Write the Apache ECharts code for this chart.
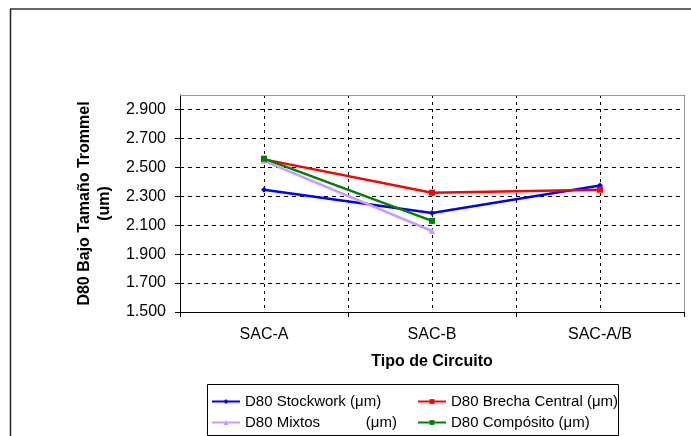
<!DOCTYPE html>
<html>
<head>
<meta charset="utf-8">
<script src="https://cdn.jsdelivr.net/npm/echarts@6/dist/echarts.min.js"></script>
<style>
  html, body { margin: 0; padding: 0; background: #fff; }
  #chart { width: 691px; height: 436px; }
</style>
</head>
<body>
<div id="chart"></div>
<script>
// Circuit types on the category axis
const circuitos = ['SAC-A', 'SAC-B', 'SAC-A/B'];

// D80 under-size of the trommel per ore type (µm, shown in thousands)
const stockwork = [2.345, 2.185, 2.375];
const brechaCentral = [2.555, 2.325, 2.345];
const mixtos = [2.545, 2.060, null];
const composito = [2.560, 2.130, null];

// Series names as they read in the legend
const nombres = [
  'D80 Stockwork (μm)',
  'D80 Brecha Central (μm)',
  'D80 Mixtos           (μm)',
  'D80 Compósito (μm)'
];

// Value axis ticks
const yMin = 1.5, yMax = 3.0, yStep = 0.2;

const FONT = '"Liberation Sans", Arial, sans-serif';

function serie(name, data, color, symbol) {
  return {
    name: name,
    type: 'line',
    data: data,
    symbol: symbol,
    symbolSize: 6,
    showSymbol: true,
    connectNulls: false,
    itemStyle: { color: color },
    lineStyle: { color: color, width: 2.5 },
    emphasis: { disabled: true },
    animation: false
  };
}

const chart = echarts.init(document.getElementById('chart'), null, { renderer: 'canvas' });

const legendBase = {
  orient: 'vertical',
  top: 394,
  padding: 0,
  itemGap: 6,
  itemWidth: 28,
  itemHeight: 6,
  textStyle: { color: '#000', fontSize: 15, fontFamily: FONT },
  selectedMode: false
};

chart.setOption({
  backgroundColor: '#ffffff',
  animation: false,
  textStyle: { fontFamily: FONT },
  grid: { left: 180, right: 7, top: 95, bottom: 124, outerBoundsMode: 'none', containLabel: false },
  xAxis: [
    {
      type: 'category',
      data: circuitos,
      boundaryGap: true,
      axisLine: { show: true, lineStyle: { color: '#000', width: 1 } },
      axisTick: { show: true, length: 5, lineStyle: { color: '#000' } },
      axisLabel: { color: '#000', fontSize: 16, fontFamily: FONT, margin: 15 },
      splitLine: { show: false },
      name: 'Tipo de Circuito',
      nameLocation: 'middle',
      nameGap: 42,
      nameTextStyle: { color: '#000', fontSize: 16, fontWeight: 'bold', fontFamily: FONT }
    },
    {
      // finer category split for the dashed vertical grid (centres and boundaries)
      type: 'category',
      data: ['', '', '', '', '', ''],
      boundaryGap: true,
      position: 'bottom',
      axisLine: { show: false },
      axisTick: { show: false },
      axisLabel: { show: false },
      splitLine: { show: true, lineStyle: { color: '#000', width: 1, type: [3, 4] } }
    }
  ],
  yAxis: {
    type: 'value',
    min: yMin,
    max: yMax,
    interval: yStep,
    axisLine: { show: true, lineStyle: { color: '#000', width: 1 } },
    axisTick: { show: true, length: 5, lineStyle: { color: '#000' } },
    axisLabel: {
      color: '#000', fontSize: 16, fontFamily: FONT, margin: 14,
      showMaxLabel: false,
      formatter: function (v) { return v.toFixed(3); }
    },
    splitLine: { show: true, lineStyle: { color: '#000', width: 1, type: [4, 4] } },
    name: 'D80 Bajo Tamaño Trommel\n(um)',
    nameLocation: 'middle',
    nameRotate: 90,
    nameGap: 59,
    nameTextStyle: { color: '#000', fontSize: 16, fontWeight: 'bold', fontFamily: FONT, lineHeight: 20, align: 'center' }
  },
  legend: [
    Object.assign({}, legendBase, { left: 211, data: [nombres[0], nombres[2]] }),
    Object.assign({}, legendBase, { left: 417, data: [nombres[1], nombres[3]] })
  ],
  graphic: [
    // outer chart-area frame
    { type: 'line', z: 100, shape: { x1: 10, y1: 9, x2: 691, y2: 9 }, style: { stroke: '#666', lineWidth: 2 } },
    { type: 'line', z: 100, shape: { x1: 10.5, y1: 9, x2: 10.5, y2: 436 }, style: { stroke: '#222', lineWidth: 1.5 } },
    // plot-area frame, top and right edges
    { type: 'line', z: 100, shape: { x1: 180, y1: 95.5, x2: 684.5, y2: 95.5 }, style: { stroke: '#999', lineWidth: 1 } },
    { type: 'line', z: 100, shape: { x1: 684.5, y1: 95.5, x2: 684.5, y2: 312 }, style: { stroke: '#999', lineWidth: 1 } },
    // legend box
    { type: 'rect', z: 100, shape: { x: 207.5, y: 384.5, width: 411, height: 51 }, style: { fill: 'none', stroke: '#000', lineWidth: 1 } }
  ],
  series: [
    serie(nombres[0], stockwork, '#0000ff', 'diamond'),
    serie(nombres[1], brechaCentral, '#ff0000', 'rect'),
    serie(nombres[2], mixtos, '#cc99ff', 'triangle'),
    serie(nombres[3], composito, '#008000', 'rect')
  ]
});
</script>
</body>
</html>
